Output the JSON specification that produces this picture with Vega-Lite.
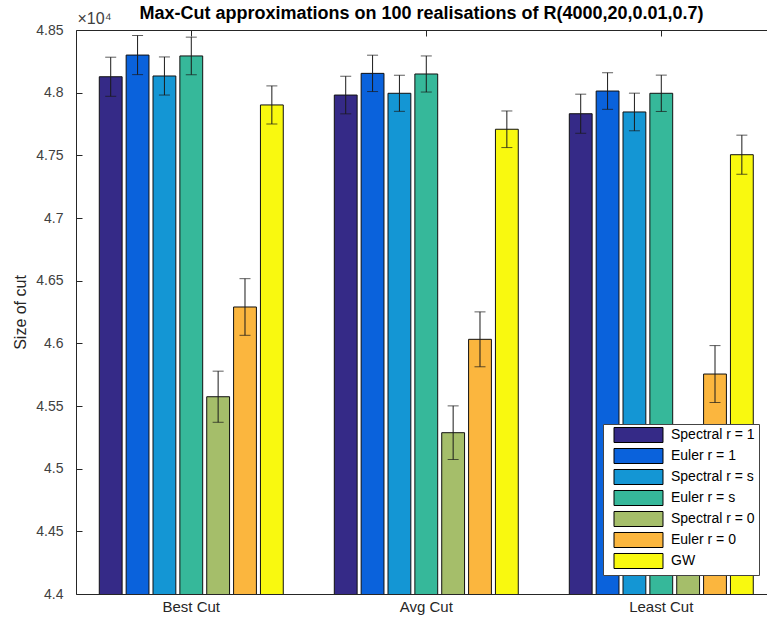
{
  "$schema": "https://vega.github.io/schema/vega-lite/v6.json",
  "width": 691,
  "height": 564,
  "autosize": "none",
  "padding": {"left": 76, "top": 30, "right": 0, "bottom": 27},
  "background": "white",
  "config": {"view": {"stroke": null}, "font": "Liberation Sans"},
  "title": {"text": "Max-Cut approximations on 100 realisations of R(4000,20,0.01,0.7)", "fontSize": 18, "fontWeight": "bold", "color": "#000000", "font": "Liberation Sans", "anchor": "middle", "offset": -13},
  "data": {"values": [
    {"cut": "Best Cut", "method": "Spectral r = 1", "value": 48127, "lo": 47971, "hi": 48283},
    {"cut": "Best Cut", "method": "Euler r = 1", "value": 48300, "lo": 48144, "hi": 48456},
    {"cut": "Best Cut", "method": "Spectral r = s", "value": 48133, "lo": 47981, "hi": 48285},
    {"cut": "Best Cut", "method": "Euler r = s", "value": 48293, "lo": 48143, "hi": 48443},
    {"cut": "Best Cut", "method": "Spectral r = 0", "value": 45574, "lo": 45370, "hi": 45778},
    {"cut": "Best Cut", "method": "Euler r = 0", "value": 46290, "lo": 46064, "hi": 46516},
    {"cut": "Best Cut", "method": "GW", "value": 47902, "lo": 47750, "hi": 48054},
    {"cut": "Avg Cut", "method": "Spectral r = 1", "value": 47981, "lo": 47831, "hi": 48131},
    {"cut": "Avg Cut", "method": "Euler r = 1", "value": 48154, "lo": 48009, "hi": 48299},
    {"cut": "Avg Cut", "method": "Spectral r = s", "value": 47995, "lo": 47851, "hi": 48139},
    {"cut": "Avg Cut", "method": "Euler r = s", "value": 48149, "lo": 48005, "hi": 48293},
    {"cut": "Avg Cut", "method": "Spectral r = 0", "value": 45287, "lo": 45073, "hi": 45501},
    {"cut": "Avg Cut", "method": "Euler r = 0", "value": 46032, "lo": 45813, "hi": 46251},
    {"cut": "Avg Cut", "method": "GW", "value": 47708, "lo": 47562, "hi": 47854},
    {"cut": "Least Cut", "method": "Spectral r = 1", "value": 47832, "lo": 47676, "hi": 47988},
    {"cut": "Least Cut", "method": "Euler r = 1", "value": 48013, "lo": 47867, "hi": 48159},
    {"cut": "Least Cut", "method": "Spectral r = s", "value": 47846, "lo": 47696, "hi": 47996},
    {"cut": "Least Cut", "method": "Euler r = s", "value": 47995, "lo": 47850, "hi": 48140},
    {"cut": "Least Cut", "method": "Spectral r = 0", "value": 45010, "lo": 44800, "hi": 45220},
    {"cut": "Least Cut", "method": "Euler r = 0", "value": 45755, "lo": 45528, "hi": 45982},
    {"cut": "Least Cut", "method": "GW", "value": 47505, "lo": 47349, "hi": 47661}
  ]},
  "layer": [
    {
      "mark": {"type": "bar", "stroke": "#111111", "strokeWidth": 1, "clip": true},
      "encoding": {
        "x": {"field": "cut", "type": "nominal", "sort": ["Best Cut", "Avg Cut", "Least Cut"],
          "scale": {"paddingInner": 0.2, "paddingOuter": 0.0702, "align": 0.645},
          "axis": {"orient": "bottom", "title": null, "labelAngle": 0, "labelFontSize": 15, "labelColor": "#262626", "labelFont": "Liberation Sans", "tickSize": -6, "tickColor": "#262626", "domainColor": "#262626", "labelPadding": 11}},
        "xOffset": {"field": "method", "type": "nominal", "sort": ["Spectral r = 1", "Euler r = 1", "Spectral r = s", "Euler r = s", "Spectral r = 0", "Euler r = 0", "GW"],
          "scale": {"paddingInner": 0.15, "paddingOuter": 0.075}},
        "y": {"field": "value", "type": "quantitative",
          "scale": {"domain": [44000, 48500], "nice": false, "zero": false},
          "axis": {"orient": "left", "title": "Size of cut", "titleFontSize": 16, "titleFontWeight": "normal", "titleColor": "#262626", "titleFont": "Liberation Sans", "titlePadding": 7,
            "values": [44000, 44500, 45000, 45500, 46000, 46500, 47000, 47500, 48000, 48500],
            "labelExpr": "toString(round(datum.value/10)/1000)", "labelFontSize": 14, "labelColor": "#404040", "labelFont": "Liberation Sans",
            "tickSize": -6, "tickColor": "#262626", "domainColor": "#262626", "labelPadding": 19, "grid": false}},
        "color": {"field": "method", "type": "nominal",
          "sort": ["Spectral r = 1", "Euler r = 1", "Spectral r = s", "Euler r = s", "Spectral r = 0", "Euler r = 0", "GW"],
          "scale": {"domain": ["Spectral r = 1", "Euler r = 1", "Spectral r = s", "Euler r = s", "Spectral r = 0", "Euler r = 0", "GW"],
            "range": ["#352A87", "#0A62DC", "#1496D4", "#36B89A", "#A5BE6A", "#FBB63E", "#F9F90F"]},
          "legend": {"orient": "none", "legendX": 527, "legendY": 394, "title": null,
            "symbolType": "M0,-1.225H8V1.225H0Z", "symbolSize": 150, "symbolStrokeColor": "#000000", "symbolStrokeWidth": 1, "symbolOpacity": 1,
            "labelFontSize": 14, "labelColor": "#000000", "labelFont": "Liberation Sans", "labelOffset": 50, "rowPadding": 1, "padding": 4,
            "fillColor": "#ffffff", "strokeColor": "#444444", "labelLimit": 200}}
      }
    },
    {
      "mark": {"type": "rule", "color": "#1a1a1a", "strokeWidth": 1},
      "encoding": {
        "x": {"field": "cut", "type": "nominal", "sort": ["Best Cut", "Avg Cut", "Least Cut"],
          "axis": {"orient": "top", "title": null, "labels": false, "tickSize": -6, "tickColor": "#262626", "domainColor": "#262626"}},
        "xOffset": {"field": "method", "type": "nominal", "sort": ["Spectral r = 1", "Euler r = 1", "Spectral r = s", "Euler r = s", "Spectral r = 0", "Euler r = 0", "GW"]},
        "y": {"field": "lo", "type": "quantitative",
          "axis": {"orient": "left", "title": "×10⁴", "titleAngle": 0, "titleAlign": "left", "titleBaseline": "alphabetic", "titleX": 1, "titleY": -7,
            "titleFontSize": 16, "titleFontWeight": "normal", "titleColor": "#404040", "titleFont": "Liberation Sans",
            "labels": false, "ticks": false, "domain": false, "grid": false}},
        "y2": {"field": "hi"}
      }
    },
    {
      "mark": {"type": "tick", "color": "#1a1a1a", "thickness": 1, "size": 11},
      "encoding": {
        "x": {"field": "cut", "type": "nominal", "sort": ["Best Cut", "Avg Cut", "Least Cut"], "axis": null},
        "xOffset": {"field": "method", "type": "nominal", "sort": ["Spectral r = 1", "Euler r = 1", "Spectral r = s", "Euler r = s", "Spectral r = 0", "Euler r = 0", "GW"]},
        "y": {"field": "lo", "type": "quantitative", "axis": null}
      }
    },
    {
      "mark": {"type": "tick", "color": "#1a1a1a", "thickness": 1, "size": 11},
      "encoding": {
        "x": {"field": "cut", "type": "nominal", "sort": ["Best Cut", "Avg Cut", "Least Cut"], "axis": null},
        "xOffset": {"field": "method", "type": "nominal", "sort": ["Spectral r = 1", "Euler r = 1", "Spectral r = s", "Euler r = s", "Spectral r = 0", "Euler r = 0", "GW"]},
        "y": {"field": "hi", "type": "quantitative", "axis": null}
      }
    }
  ],
  "resolve": {"axis": {"x": "independent", "y": "independent"}}
}
